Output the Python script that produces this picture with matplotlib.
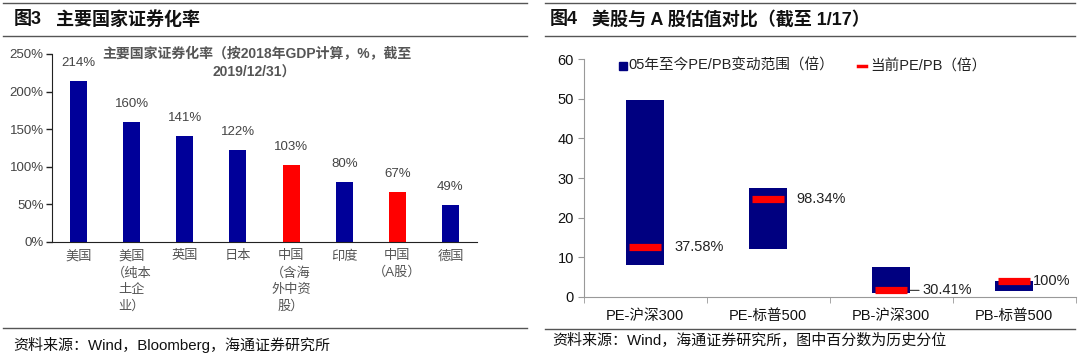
import matplotlib
matplotlib.use("Agg")
import matplotlib.pyplot as plt
from matplotlib.lines import Line2D
import numpy as np

plt.rcParams['font.family'] = ['Liberation Sans', 'Noto Sans CJK SC', 'DejaVu Sans']

# ---------------- data ----------------
left_categories = ["美国", "美国\n（纯本\n土企\n业）", "英国", "日本", "中国\n（含海\n外中资\n股）",
                   "印度", "中国\n（A股）", "德国"]
left_values = [214, 160, 141, 122, 103, 80, 67, 49]
left_is_china = [False, False, False, False, True, False, True, False]
left_yticks = [0, 50, 100, 150, 200, 250]

right_categories = ["PE-沪深300", "PE-标普500", "PB-沪深300", "PB-标普500"]
range_low = [8.0, 12.0, 1.0, 1.5]
range_high = [49.6, 27.5, 7.5, 4.0]
current_value = [12.6, 24.8, 1.6, 3.9]
percentile_labels = ["37.58%", "98.34%", "30.41%", "100%"]
right_yticks = [0, 10, 20, 30, 40, 50, 60]

NAVY = "#000080"
RED = "#FF0000"

W, H = 1080, 357
fig = plt.figure(figsize=(W / 100, H / 100), dpi=100)


def fx(px):
    return px / W


def fy(py):
    return 1 - py / H


def hline(x0, x1, y, color="#555555", lw=1.0):
    fig.add_artist(Line2D([fx(x0), fx(x1)], [fy(y), fy(y)], color=color, lw=lw,
                          transform=fig.transFigure))


# ---------------- panel frames ----------------
for (x0, x1) in [(3, 527), (545, 1075)]:
    hline(x0, x1, 3)
    hline(x0, x1, 36)
hline(3, 527, 328)
hline(545, 1075, 329)

fig.text(fx(14), fy(20), "图3", fontsize=13, fontweight="bold", va="center", color="#111111")
fig.text(fx(56), fy(20), "主要国家证券化率", fontsize=13, fontweight="bold", va="center", color="#111111")
fig.text(fx(550), fy(20), "图4", fontsize=13, fontweight="bold", va="center", color="#111111")
fig.text(fx(592), fy(20), "美股与 A 股估值对比（截至 1/17）", fontsize=13, fontweight="bold",
         va="center", color="#111111")

fig.text(fx(13), fy(345), "资料来源：Wind，Bloomberg，海通证券研究所", fontsize=10.8, va="center", color="#111111")
fig.text(fx(552), fy(341), "资料来源：Wind，海通证券研究所，图中百分数为历史分位", fontsize=10.8, va="center",
         color="#111111")

# ---------------- left chart ----------------
axL = fig.add_axes([fx(52), fy(242), fx(477) - fx(52), fy(54) - fy(242)])
xl = np.arange(len(left_values))
colors = [RED if c else "#000099" for c in left_is_china]
axL.bar(xl, left_values, width=0.32, color=colors)
axL.set_xlim(-0.5, len(left_values) - 0.5)
axL.set_ylim(0, 250)
axL.set_yticks(left_yticks)
axL.set_yticklabels([f"{v}%" for v in left_yticks], fontsize=9.5, color="#444444")
axL.set_xticks(xl)
axL.set_xticklabels(left_categories, fontsize=9.5, color="#555555", linespacing=1.45, va="top")
axL.tick_params(axis="x", length=0, pad=6)
axL.tick_params(axis="y", length=4, direction="out", width=1, color="#222222", pad=2)
for s in ["top", "right"]:
    axL.spines[s].set_visible(False)
axL.spines["left"].set_color("#222222")
axL.spines["bottom"].set_color("#222222")
for x, v in zip(xl, left_values):
    axL.annotate(f"{v}%", (x, v), xytext=(0, 18), textcoords="offset pixels",
                 ha="center", va="center", fontsize=9.5, color="#444444")

fig.text(fx(257), fy(54), "主要国家证券化率（按2018年GDP计算，%，截至", fontsize=10, fontweight="bold",
         ha="center", va="center", color="#555555")
fig.text(fx(254), fy(73), "2019/12/31）", fontsize=10, fontweight="bold",
         ha="center", va="center", color="#555555")

# ---------------- right chart ----------------
axR = fig.add_axes([fx(583.5), fy(296.7), fx(1075.5) - fx(583.5), fy(59.3) - fy(296.7)])
xr = np.arange(len(right_categories))
low = np.array(range_low)
high = np.array(range_high)
bw = 0.31
axR.bar(xr, high - low, bottom=low, width=bw, color=NAVY)
axR.hlines(current_value, xr - 0.13, xr + 0.13, color=RED, lw=5.2)
axR.set_xlim(-0.5, len(right_categories) - 0.5)
axR.set_ylim(0, 60)
axR.set_yticks(right_yticks)
axR.set_yticklabels([str(v) for v in right_yticks], fontsize=10.5, color="#111111")
axR.set_xticks(xr)
axR.set_xticklabels(right_categories, fontsize=10.5, color="#111111")
axR.set_xticks(np.arange(-0.5, len(right_categories)), minor=True)
axR.tick_params(axis="x", which="major", length=0, pad=9)
axR.tick_params(axis="x", which="minor", length=4, direction="out", color="#999999")
axR.tick_params(axis="y", length=4, direction="out", color="#999999", pad=3)
for s in ["top", "right"]:
    axR.spines[s].set_visible(False)
axR.spines["left"].set_color("#999999")
axR.spines["bottom"].set_color("#999999")

label_offsets = [10, 9, 12, 0]
for i, (x, c, lab) in enumerate(zip(xr, current_value, percentile_labels)):
    off = label_offsets[i]
    if i == 2:
        axR.annotate("", xy=(x + bw / 2, c), xytext=(off - 3, 0), textcoords="offset pixels",
                     arrowprops=dict(arrowstyle="-", color="#333333", lw=0.8,
                                     shrinkA=0, shrinkB=0))
    axR.annotate(lab, (x + bw / 2, c), xytext=(off, 0), textcoords="offset pixels",
                 ha="left", va="center", fontsize=10.5, color="#222222")

# legend (manual, matching the reference's layout)
fig.patches.append(matplotlib.patches.Rectangle((fx(619), fy(70)), fx(8), fy(62) - fy(70),
                                                color=NAVY, transform=fig.transFigure))
fig.text(fx(628), fy(66), "05年至今PE/PB变动范围（倍）", fontsize=10.5, va="center", color="#222222")
fig.add_artist(Line2D([fx(858), fx(866)], [fy(66), fy(66)], color=RED, lw=2.5,
                      transform=fig.transFigure))
fig.text(fx(870), fy(66), "当前PE/PB（倍）", fontsize=10.5, va="center", color="#222222")

fig.savefig("out.png", dpi=100)
